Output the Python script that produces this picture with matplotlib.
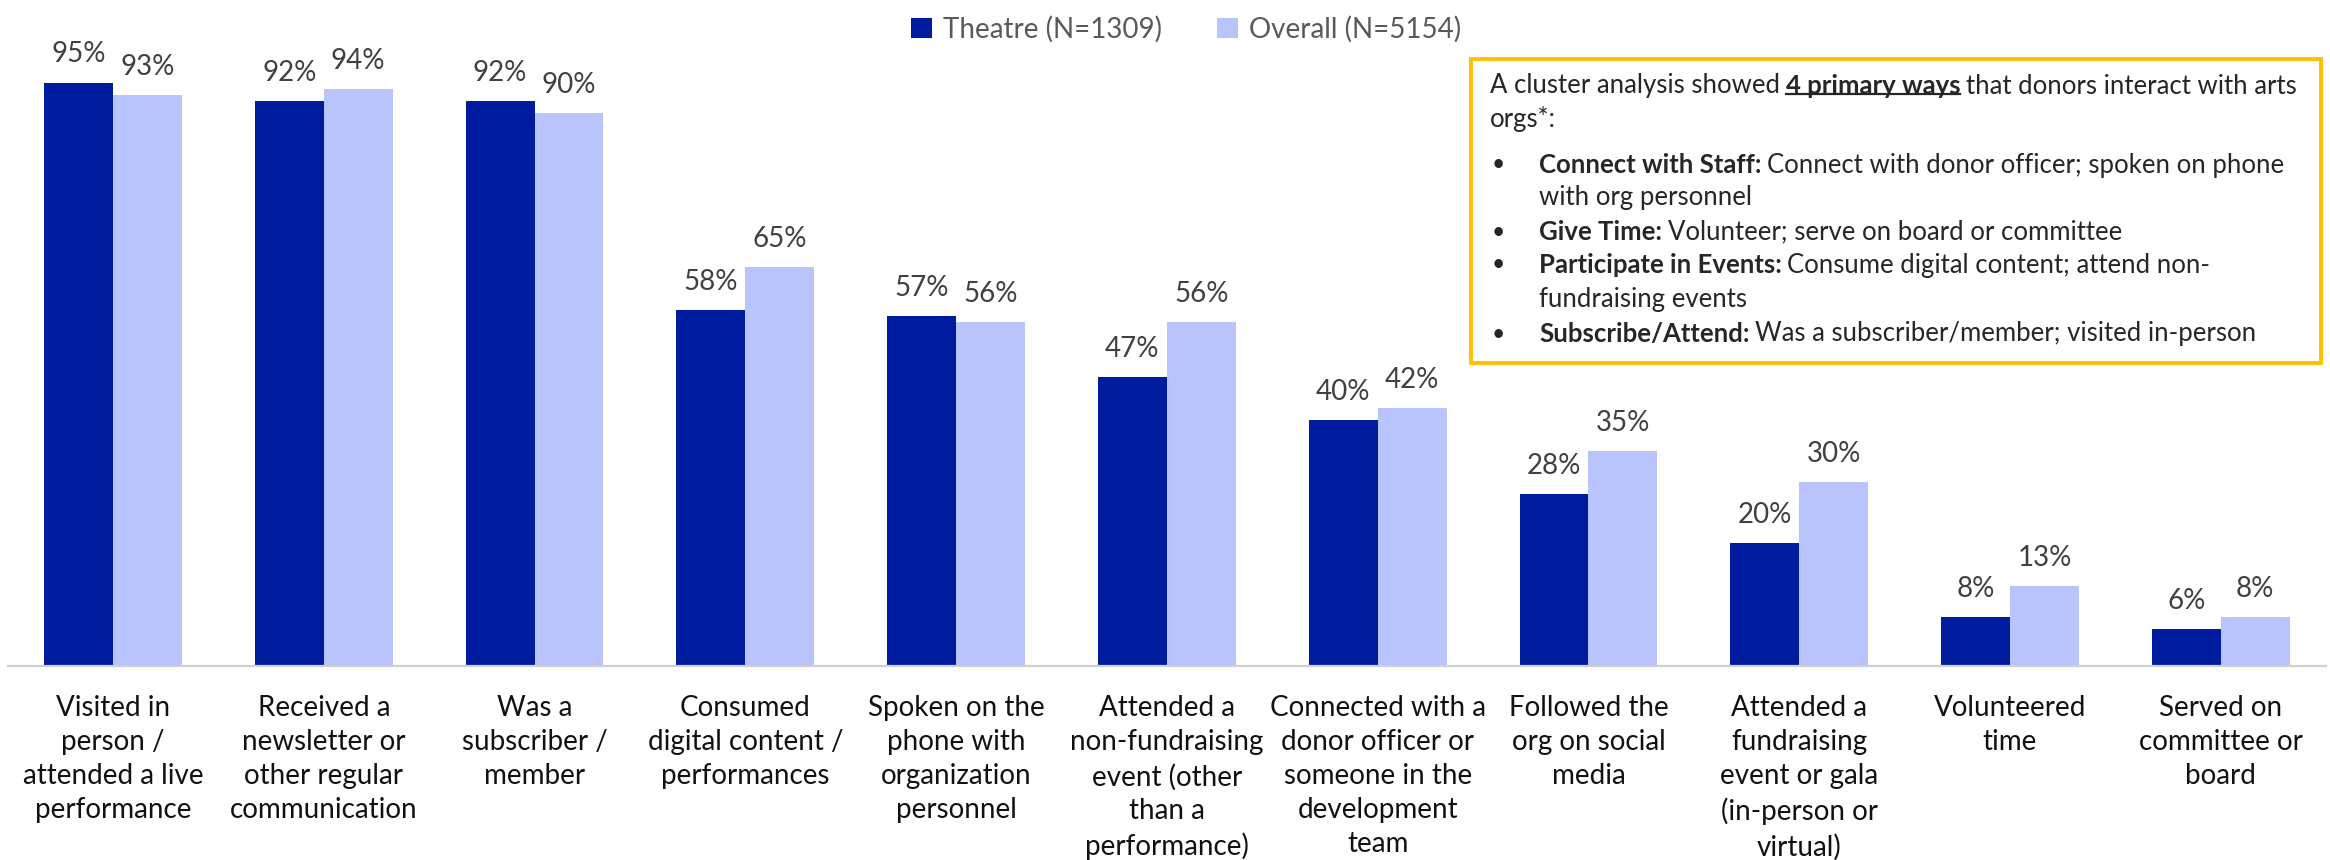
import matplotlib
matplotlib.use("Agg")
import matplotlib.pyplot as plt
import numpy as np
from matplotlib.lines import Line2D
from matplotlib.patches import Rectangle, Patch

plt.rcParams["font.family"] = ["Lato", "DejaVu Sans"]

categories = [
    "Visited in\nperson /\nattended a live\nperformance",
    "Received a\nnewsletter or\nother regular\ncommunication",
    "Was a\nsubscriber /\nmember",
    "Consumed\ndigital content /\nperformances",
    "Spoken on the\nphone with\norganization\npersonnel",
    "Attended a\nnon-fundraising\nevent (other\nthan a\nperformance)",
    "Connected with a\ndonor officer or\nsomeone in the\ndevelopment\nteam",
    "Followed the\norg on social\nmedia",
    "Attended a\nfundraising\nevent or gala\n(in-person or\nvirtual)",
    "Volunteered\ntime",
    "Served on\ncommittee or\nboard",
]
theatre = [95, 92, 92, 58, 57, 47, 40, 28, 20, 8, 6]
overall = [93, 94, 90, 65, 56, 56, 42, 35, 30, 13, 8]
series_names = ["Theatre (N=1309)", "Overall (N=5154)"]

DARK = "#001C9E"
LIGHT = "#B8C4FB"
LABEL_GREY = "#404040"
TEXT = "#262626"
FS = 20
BOX_FS = 18.5

fig = plt.figure(figsize=(23.3, 8.6), dpi=100)
ax = fig.add_axes([0.00326, 0.2256, 0.9951, 0.7139])

x = np.arange(len(categories))
w = 0.327
b1 = ax.bar(x - w / 2, np.array(theatre) / 100, w, color=DARK)
b2 = ax.bar(x + w / 2, np.array(overall) / 100, w, color=LIGHT)

for bars, vals in ((b1, theatre), (b2, overall)):
    for rect, v in zip(bars, vals):
        ax.annotate(f"{v}%", (rect.get_x() + rect.get_width() / 2, rect.get_height()),
                    xytext=(0, 11), textcoords="offset points", ha="center", va="bottom",
                    fontsize=FS, color=LABEL_GREY, annotation_clip=False)

ax.set_xlim(-0.5, len(categories) - 0.5)
ax.set_ylim(0, 1)
ax.set_yticks([])
ax.set_xticks(x)
ax.set_xticklabels(categories, fontsize=FS, color="#111111", linespacing=1.38)
ax.tick_params(axis="x", length=0, pad=21)
for s in ("left", "right", "top"):
    ax.spines[s].set_visible(False)
ax.spines["bottom"].set_color("#d0d0d0")
ax.spines["bottom"].set_linewidth(1.6)

handles = [Patch(facecolor=DARK), Patch(facecolor=LIGHT)]
fig.legend(handles, series_names, loc="center", bbox_to_anchor=(0.509, 0.966), ncol=2,
           frameon=False, fontsize=FS, labelcolor="#595959", handlelength=0.75,
           handleheight=0.75, handletextpad=0.4, columnspacing=2.0)

# callout box
over = fig.add_axes([0, 0, 1, 1], zorder=5)
over.axis("off")
over.set_xlim(0, 1)
over.set_ylim(0, 1)
over.add_patch(Rectangle((0.6313, 0.5779), 0.3648, 0.3535, facecolor="white",
                         edgecolor="#FFC000", linewidth=2.8, transform=fig.transFigure))

GAP = 4.0
underlined = []


def rich_line(x0, ypix, parts):
    y = 1 - ypix / 860
    prev = None
    for text, weight, under in parts:
        if prev is None:
            t = over.text(x0, y, text, fontsize=BOX_FS, fontweight=weight, color=TEXT,
                          ha="left", va="center", transform=fig.transFigure)
        else:
            t = over.annotate(text, xy=(1, 0.5), xycoords=prev, xytext=(GAP, 0),
                              textcoords="offset points", fontsize=BOX_FS, fontweight=weight,
                              color=TEXT, ha="left", va="center")
        if under:
            underlined.append(t)
        prev = t


x_par = 1490 / 2330
x_bul = 1492 / 2330
x_ind = 1539 / 2330

rich_line(x_par, 86, [("A cluster analysis showed", "normal", False),
                      ("4 primary ways", "bold", True),
                      ("that donors interact with arts", "normal", False)])
rich_line(x_par, 119, [("orgs*:", "normal", False)])

bullets = [
    (165, [("Connect with Staff:", "bold", False), ("Connect with donor officer; spoken on phone", "normal", False)]),
    (198, [("with org personnel", "normal", False)]),
    (232, [("Give Time:", "bold", False), ("Volunteer; serve on board or committee", "normal", False)]),
    (265, [("Participate in Events:", "bold", False), ("Consume digital content; attend non-", "normal", False)]),
    (300, [("fundraising events", "normal", False)]),
    (334, [("Subscribe/Attend:", "bold", False), ("Was a subscriber/member; visited in-person", "normal", False)]),
]
for ypix, parts in bullets:
    if parts[0][1] == "bold":
        over.text(x_bul, 1 - ypix / 860, "•", fontsize=BOX_FS - 2, color=TEXT, ha="left",
                  va="center", transform=fig.transFigure)
    rich_line(x_ind, ypix, parts)

fig.canvas.draw()
renderer = fig.canvas.get_renderer()
for t in underlined:
    bb = t.get_window_extent(renderer)
    yl = bb.y0 + 0.18 * bb.height
    inv = fig.transFigure.inverted()
    (fx0, fy), (fx1, _) = inv.transform([(bb.x0, yl), (bb.x1, yl)])
    over.add_line(Line2D([fx0, fx1], [fy, fy], color=TEXT, linewidth=1.6,
                         transform=fig.transFigure))

fig.savefig("out.png", dpi=100)
